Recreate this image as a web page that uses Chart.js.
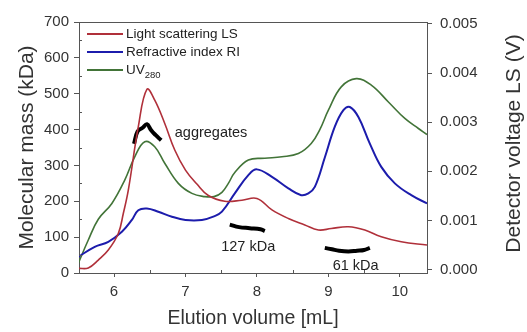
<!DOCTYPE html>
<html>
<head>
<meta charset="utf-8">
<script src="https://cdn.jsdelivr.net/npm/chart.js@4/dist/chart.umd.min.js"></script>
<style>
  html, body { margin: 0; padding: 0; background: #fff; }
  #wrap { width: 527px; height: 332px; position: relative; }
</style>
</head>
<body>
<div id="wrap"><canvas id="chart_1"></canvas></div>
<script>
// values (elution volume in mL, signal in kDa units of left axis)
const lsVolume = [5.50, 5.64, 5.78, 5.92, 6.06, 6.13, 6.20, 6.34, 6.46, 6.57, 6.71, 6.85, 7.00, 7.16, 7.32, 7.55, 7.79, 8.00, 8.21, 8.44, 8.67, 8.86, 9.04, 9.28, 9.51, 9.74, 10.02, 10.38];
const lsSignal = [13, 14, 36, 64, 110, 166, 231, 408, 512, 482, 417, 343, 287, 248, 216, 200, 203, 208, 176, 152, 134, 120, 124, 129, 120, 101, 87, 78];

const riVolume = [5.50, 5.73, 5.92, 6.11, 6.25, 6.34, 6.46, 6.62, 6.81, 7.00, 7.23, 7.40, 7.51, 7.69, 7.88, 8.00, 8.21, 8.44, 8.62, 8.72, 8.81, 8.95, 9.09, 9.21, 9.30, 9.42, 9.58, 9.74, 9.93, 10.16, 10.38];
const riSignal = [45, 73, 87, 115, 148, 175, 180, 171, 157, 148, 148, 158, 171, 222, 273, 289, 268, 236, 217, 222, 240, 322, 408, 454, 463, 435, 361, 296, 250, 217, 194];

const uvVolume = [5.50, 5.64, 5.78, 5.97, 6.15, 6.29, 6.43, 6.57, 6.71, 6.90, 7.09, 7.27, 7.40, 7.51, 7.60, 7.69, 7.88, 8.11, 8.35, 8.58, 8.76, 8.88, 9.00, 9.18, 9.39, 9.60, 9.84, 10.07, 10.26, 10.38];
const uvSignal = [27, 92, 150, 194, 259, 324, 366, 352, 306, 250, 222, 213, 213, 225, 250, 280, 315, 320, 324, 333, 361, 400, 454, 519, 542, 524, 477, 431, 403, 386];

// molar mass traces (black)
const aggVolume = [6.28, 6.33, 6.40, 6.46, 6.52, 6.58, 6.66];
const aggMass = [360, 395, 405, 415, 398, 385, 370];
const m127Volume = [7.62, 7.75, 7.90, 8.05, 8.11];
const m127Mass = [135, 128, 125, 122, 117];
const m61Volume = [8.95, 9.05, 9.15, 9.28, 9.40, 9.50, 9.58];
const m61Mass = [70, 66, 62, 60, 62, 64, 70];

const seriesNames = ['Light scattering LS', 'Refractive index RI', 'UV'];
const massTicks = [0, 100, 200, 300, 400, 500, 600, 700];
const voltTicks = [0, 0.001, 0.002, 0.003, 0.004, 0.005];
const volumeTicks = [6, 7, 8, 9, 10];
const notes = [
  { text: 'aggregates', x: 6.85, y: 390 },
  { text: '127 kDa', x: 7.50, y: 72 },
  { text: '61 kDa', x: 9.06, y: 20 }
];

const RED = 'rgb(176,48,58)', BLUE = 'rgb(28,28,172)', GREEN = 'rgb(66,116,56)';
const FONT = '"Liberation Sans", Arial, sans-serif';
const AXIS = '#555';

const pts = (xs, ys) => xs.map((x, i) => ({ x: x, y: ys[i] }));
const line = (label, xs, ys, color, width) => ({
  label: label,
  data: pts(xs, ys),
  borderColor: color,
  borderWidth: width,
  pointRadius: 0,
  fill: false,
  tension: 0.4,
  yAxisID: 'y'
});

// legend, notes, frame, right title, minor ticks
const extras = {
  id: 'extras',
  afterDraw(chart) {
    const ctx = chart.ctx, a = chart.chartArea;
    const xs = chart.scales.x, ys = chart.scales.y;
    ctx.save();
    // frame top
    ctx.strokeStyle = AXIS; ctx.lineWidth = 1;
    ctx.beginPath(); ctx.moveTo(a.left, a.top + 0.5); ctx.lineTo(a.right, a.top + 0.5); ctx.stroke();
    // minor ticks
    ctx.beginPath();
    for (let v = 50; v < 700; v += 100) {
      const py = Math.round(ys.getPixelForValue(v)) + 0.5;
      ctx.moveTo(a.left, py); ctx.lineTo(a.left + 3, py);
    }
    for (let v = 6.5; v < 10.4; v += 1) {
      const px = Math.round(xs.getPixelForValue(v)) + 0.5;
      ctx.moveTo(px, a.bottom); ctx.lineTo(px, a.bottom - 3);
    }
    ctx.stroke();
    // legend
    const colors = [RED, BLUE, GREEN];
    ctx.font = '13.5px ' + FONT;
    ctx.textBaseline = 'middle';
    ctx.fillStyle = '#222';
    colors.forEach((c, i) => {
      const y = a.top + 12 + i * 18;
      ctx.strokeStyle = c; ctx.lineWidth = 2;
      ctx.beginPath(); ctx.moveTo(a.left + 8, y); ctx.lineTo(a.left + 44, y); ctx.stroke();
      ctx.fillText(seriesNames[i], a.left + 47, y);
      if (i === 2) {
        const w = ctx.measureText(seriesNames[i]).width;
        ctx.font = '9.5px ' + FONT;
        ctx.fillText('280', a.left + 47 + w, y + 5);
        ctx.font = '13.5px ' + FONT;
      }
    });
    // notes
    ctx.font = '14.5px ' + FONT;
    ctx.fillStyle = '#222';
    ctx.textAlign = 'left';
    notes.forEach(n => ctx.fillText(n.text, xs.getPixelForValue(n.x), ys.getPixelForValue(n.y)));
    // right axis title, reading upward
    ctx.font = '21px ' + FONT;
    ctx.fillStyle = '#333';
    ctx.translate(514, (a.top + a.bottom) / 2 - 4);
    ctx.rotate(-Math.PI / 2);
    ctx.textAlign = 'center';
    ctx.fillText('Detector voltage LS (V)', 0, 0);
    ctx.restore();
  }
};

window.onload = () => {
  Chart.defaults.font.family = FONT;
  Chart.defaults.color = '#333';
  const ctx = document.getElementById('chart_1').getContext('2d');
  new Chart(ctx, {
    type: 'line',
    data: {
      datasets: [
        line(seriesNames[0], lsVolume, lsSignal, RED, 1.6),
        line(seriesNames[1], riVolume, riSignal, BLUE, 2),
        line(seriesNames[2], uvVolume, uvSignal, GREEN, 1.6),
        line('aggregates', aggVolume, aggMass, '#000', 4),
        line('127 kDa', m127Volume, m127Mass, '#000', 4),
        line('61 kDa', m61Volume, m61Mass, '#000', 4)
      ]
    },
    options: {
      responsive: true,
      maintainAspectRatio: false,
      animation: false,
      layout: { padding: { top: 22, left: 0, right: 0, bottom: 0 } },
      plugins: { legend: { display: false }, tooltip: { enabled: false } },
      scales: {
        x: {
          type: 'linear',
          min: 5.51, max: 10.38,
          afterBuildTicks: s => { s.ticks = volumeTicks.map(v => ({ value: v })); },
          afterFit: s => { s.height = 59; },
          grid: { drawOnChartArea: false, drawTicks: true, tickLength: 4, color: AXIS },
          border: { color: AXIS },
          ticks: { font: { size: 15 }, color: '#333', padding: 6 },
          title: { display: true, text: 'Elution volume [mL]', font: { size: 19.5 }, color: '#333', padding: { top: 0, bottom: 2 } }
        },
        y: {
          position: 'left',
          min: 0, max: 700,
          afterBuildTicks: s => { s.ticks = massTicks.map(v => ({ value: v })); },
          afterFit: s => { s.width = 79; },
          grid: { drawOnChartArea: false, drawTicks: true, tickLength: 5, color: AXIS },
          border: { color: AXIS },
          ticks: { font: { size: 15 }, color: '#333', padding: 5 },
          title: { display: true, text: 'Molecular mass (kDa)', font: { size: 21 }, color: '#333', padding: { top: 15, bottom: 0 } }
        },
        y1: {
          position: 'right',
          min: -0.00007, max: 0.00504,
          afterBuildTicks: s => { s.ticks = voltTicks.map(v => ({ value: v })); },
          afterFit: s => { s.width = 100; },
          grid: { drawOnChartArea: false, drawTicks: true, tickLength: 5, color: AXIS },
          border: { color: AXIS },
          ticks: { font: { size: 15 }, color: '#333', padding: 8, callback: v => v.toFixed(3) }
        }
      }
    },
    plugins: [extras]
  });
};
</script>
</body>
</html>
